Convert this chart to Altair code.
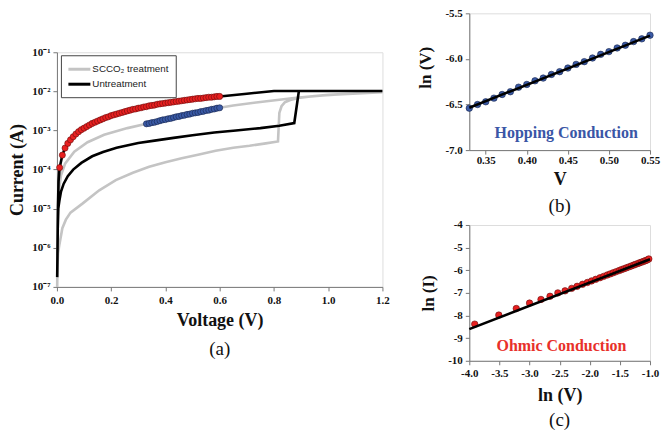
import altair as alt
import pandas as pd

# ---------------- Panel (a): I-V loops (V, log10 I), in sweep order ----------------
scco2_v = [0.001, 0.002, 0.004, 0.009, 0.02, 0.033, 0.05, 0.094, 0.156, 0.217, 0.28, 0.34,
           0.40, 0.46, 0.52, 0.585, 0.65, 0.71, 0.77, 0.815, 0.82, 0.828, 0.84, 0.86, 0.89,
           0.95, 1.05, 1.2,
           1.2, 1.0, 0.874, 0.75, 0.65, 0.60, 0.5, 0.4, 0.33, 0.26, 0.174, 0.113, 0.064,
           0.03, 0.015, 0.008, 0.004, 0.002, 0.001]
scco2_logi = [-7.0, -6.5, -6.15, -5.92, -5.5, -5.28, -5.1, -4.87, -4.53, -4.27, -4.08, -3.93,
              -3.81, -3.71, -3.62, -3.52, -3.44, -3.39, -3.33, -3.28, -2.55, -2.38, -2.28, -2.22, -2.17,
              -2.12, -2.07, -2.02,
              -2.02, -2.09, -2.17, -2.27, -2.36, -2.42, -2.56, -2.72, -2.83, -2.94, -3.11, -3.30, -3.54,
              -3.85, -4.15, -4.5, -5.0, -6.0, -7.0]

untr_v = [0.001, 0.002, 0.003, 0.005, 0.009, 0.015, 0.025, 0.04, 0.06, 0.09, 0.13, 0.17,
          0.22, 0.30, 0.36, 0.43, 0.50, 0.58, 0.66, 0.75, 0.82, 0.875, 0.892, 0.95, 1.05, 1.2,
          1.2, 0.8, 0.7, 0.6, 0.5, 0.4, 0.3, 0.2, 0.15, 0.1, 0.07, 0.05, 0.03, 0.02, 0.01,
          0.006, 0.004, 0.003, 0.002, 0.001]
untr_logi = [-6.75, -6.2, -5.5, -5.0, -4.8, -4.56, -4.36, -4.17, -4.0, -3.83, -3.66, -3.55,
             -3.44, -3.32, -3.26, -3.19, -3.12, -3.05, -3.0, -2.94, -2.88, -2.81, -1.99, -1.99, -1.99, -1.99,
             -1.99, -1.99, -2.06, -2.13, -2.20, -2.30, -2.43, -2.62, -2.76, -2.94, -3.09, -3.24, -3.45, -3.63, -3.95,
             -4.3, -4.9, -5.5, -6.2, -6.75]

red_v = [round(0.01 * k, 2) for k in range(1, 61)]
red_logi = [-3.95, -3.63, -3.45, -3.33, -3.24, -3.16, -3.09, -3.03, -2.98, -2.94,
            -2.90, -2.86, -2.82, -2.79, -2.76, -2.73, -2.70, -2.67, -2.65, -2.62,
            -2.60, -2.58, -2.56, -2.54, -2.52, -2.50, -2.48, -2.46, -2.45, -2.43,
            -2.42, -2.40, -2.39, -2.37, -2.36, -2.35, -2.33, -2.32, -2.31, -2.30,
            -2.29, -2.28, -2.27, -2.26, -2.25, -2.24, -2.23, -2.22, -2.21, -2.20,
            -2.19, -2.18, -2.18, -2.17, -2.16, -2.15, -2.15, -2.14, -2.13, -2.13]

blue_v = [round(0.01 * k, 2) for k in range(33, 61)]
blue_logi = [-2.83, -2.82, -2.80, -2.79, -2.77, -2.75, -2.73, -2.72, -2.70, -2.69,
             -2.67, -2.65, -2.64, -2.62, -2.61, -2.59, -2.58, -2.56, -2.55, -2.54,
             -2.52, -2.51, -2.49, -2.48, -2.46, -2.45, -2.43, -2.42]

series_names = ["SCCO\u2082 treatment", "Untreatment"]
series_colors = ["#c4c4c4", "#000000"]
a_x_ticks = [0.0, 0.2, 0.4, 0.6, 0.8, 1.0, 1.2]
a_y_ticks = [1e-7, 1e-6, 1e-5, 1e-4, 1e-3, 1e-2, 1e-1]

# ---------------- Panel (b): hopping conduction (V, ln I) ----------------
b_v = [0.33, 0.34, 0.35, 0.36, 0.37, 0.38, 0.39, 0.40, 0.41, 0.42, 0.43, 0.44,
       0.45, 0.46, 0.47, 0.48, 0.49, 0.50, 0.51, 0.52, 0.53, 0.54, 0.55]
b_lni = [-6.54, -6.50, -6.47, -6.43, -6.39, -6.36, -6.31, -6.28, -6.24, -6.21, -6.17, -6.14,
         -6.10, -6.06, -6.03, -5.99, -5.95, -5.92, -5.88, -5.85, -5.81, -5.78, -5.74]
b_fit_x = [0.33, 0.55]
b_fit_y = [-6.535, -5.745]
b_x_ticks = [0.35, 0.40, 0.45, 0.50, 0.55]
b_y_ticks = [-7.0, -6.5, -6.0, -5.5]
b_label = ["Hopping Conduction"]
b_label_x = [0.448]
b_label_y = [-6.81]

# ---------------- Panel (c): ohmic conduction (ln V, ln I) ----------------
c_lnv = [-3.91, -3.51, -3.22, -3.00, -2.81, -2.66, -2.53, -2.41, -2.30, -2.21, -2.12, -2.04,
         -1.97, -1.90, -1.83, -1.77, -1.71, -1.66, -1.61, -1.56, -1.51, -1.47, -1.43, -1.39,
         -1.35, -1.31, -1.27, -1.24, -1.20, -1.17, -1.14, -1.11, -1.08, -1.05, -1.02]
c_lni = [-8.38, -7.98, -7.69, -7.45, -7.29, -7.15, -7.00, -6.91, -6.80, -6.71, -6.62, -6.54,
         -6.47, -6.40, -6.33, -6.27, -6.21, -6.16, -6.11, -6.06, -6.01, -5.97, -5.93, -5.89,
         -5.85, -5.81, -5.77, -5.74, -5.70, -5.67, -5.64, -5.61, -5.58, -5.55, -5.50]
c_fit_x = [-4.0, -1.0]
c_fit_y = [-8.6, -5.51]
c_x_ticks = [-4.0, -3.5, -3.0, -2.5, -2.0, -1.5, -1.0]
c_y_ticks = [-10, -9, -8, -7, -6, -5, -4]
c_label = ["Ohmic Conduction"]
c_label_x = [-2.47]
c_label_y = [-9.34]

SERIF = "Liberation Serif"
SANS = "Liberation Sans"
MINUS_FIX = "replace(format(datum.value, '{fmt}'), '\u2212', '-')"


def loop_df(v, lg, name):
    return pd.DataFrame({"V": v, "I": [10 ** x for x in lg], "k": list(range(len(v))), "s": name})


def axis_common(**kw):
    base = dict(labelFont=SERIF, labelFontWeight="bold", labelFontSize=11, labelColor="#111",
                titleFont=SERIF, titleFontWeight="bold", titleFontSize=18, titleColor="#111",
                domainColor="#777", tickColor="#777", tickSize=4, grid=False, labelFlush=False)
    base.update(kw)
    return alt.Axis(**base)


# ---------- panel a ----------
color_scale = alt.Scale(domain=series_names, range=series_colors)
xa = alt.X("V:Q", scale=alt.Scale(domain=[0, 1.2], nice=False),
           axis=axis_common(values=a_x_ticks, format=".1f", title="Voltage (V)",
                            labelPadding=4, titlePadding=6))
ya = alt.Y("I:Q", scale=alt.Scale(type="log", domain=[1e-7, 1e-1], nice=False),
           axis=axis_common(values=a_y_ticks, title="Current (A)", labelPadding=3, titlePadding=5,
                            labelExpr="'10' + ['\u207b\u2077','\u207b\u2076','\u207b\u2075','\u207b\u2074','\u207b\u00b3','\u207b\u00b2','\u207b\u00b9'][round(log(datum.value)/LN10)+7]"))

legend = alt.Legend(title=None, orient="none", legendX=4, legendY=3, symbolType="M-2,0H2",
                    symbolStrokeWidth=3, symbolSize=121, symbolOffset=4.5, labelFont=SANS,
                    labelFontSize=9.8, labelColor="#222", strokeColor="#444", fillColor="white",
                    padding=7, rowPadding=2, labelOffset=6)

gray_line = alt.Chart(loop_df(scco2_v, scco2_logi, series_names[0])).mark_line(strokeWidth=2.6).encode(
    x=xa, y=ya, order="k:Q", color=alt.Color("s:N", scale=color_scale, legend=legend))
black_line = alt.Chart(loop_df(untr_v, untr_logi, series_names[1])).mark_line(strokeWidth=2.6).encode(
    x=xa, y=ya, order="k:Q", color=alt.Color("s:N", scale=color_scale, legend=legend))
red_pts = alt.Chart(pd.DataFrame({"V": red_v, "I": [10 ** x for x in red_logi]})).mark_point(
    filled=True, shape="circle", size=38, color="#e82020", stroke="#6a0d0d", strokeWidth=0.6, opacity=1
).encode(x=xa, y=ya)
blue_pts = alt.Chart(pd.DataFrame({"V": blue_v, "I": [10 ** x for x in blue_logi]})).mark_point(
    filled=True, shape="circle", size=38, color="#3a5aa6", stroke="#16244a", strokeWidth=0.6, opacity=1
).encode(x=xa, y=ya)

panel_a = alt.layer(gray_line, black_line, red_pts, blue_pts).properties(
    width=326, height=235,
    title=alt.TitleParams("(a)", orient="bottom", font=SERIF, fontSize=19, fontWeight="normal",
                          color="#111", offset=10))

spacer = alt.Chart(pd.DataFrame({"a": [0]})).mark_point(opacity=0).encode(
    x=alt.X("a:Q", axis=None), y=alt.Y("a:Q", axis=None)
).properties(width=10, height=32, view=alt.ViewBackground(stroke=None))

col_a = alt.vconcat(spacer, panel_a, spacing=0).resolve_scale(color="independent")

# ---------- panel b ----------
xb = alt.X("x:Q", scale=alt.Scale(domain=[0.33, 0.55], nice=False, zero=False),
           axis=axis_common(values=b_x_ticks, title="V", labelExpr=MINUS_FIX.format(fmt=".2f"),
                            labelPadding=0, titlePadding=5))
yb = alt.Y("y:Q", scale=alt.Scale(domain=[-7.0, -5.5], nice=False, zero=False),
           axis=axis_common(values=b_y_ticks, title="ln (V)", labelExpr=MINUS_FIX.format(fmt=".1f"),
                            labelPadding=3, titlePadding=10, titleFontSize=17, titleY=54))
b_pts = alt.Chart(pd.DataFrame({"x": b_v, "y": b_lni})).mark_point(
    filled=True, shape="circle", size=42, color="#3a5aa6", stroke="#16244a", strokeWidth=0.6, opacity=1
).encode(x=xb, y=yb)
b_fit = alt.Chart(pd.DataFrame({"x": b_fit_x, "y": b_fit_y})).mark_line(color="#000", strokeWidth=2.6).encode(x=xb, y=yb)
b_txt = alt.Chart(pd.DataFrame({"x": b_label_x, "y": b_label_y, "t": b_label})).mark_text(
    font=SERIF, fontWeight="bold", fontSize=16, color="#3a56a6", align="center", baseline="middle"
).encode(x=xb, y=yb, text="t:N")
panel_b = alt.layer(b_pts, b_fit, b_txt).properties(
    width=181, height=137,
    title=alt.TitleParams("(b)", orient="bottom", font=SERIF, fontSize=19, fontWeight="normal",
                          color="#111", offset=9))

# ---------- panel c ----------
xc = alt.X("x:Q", scale=alt.Scale(domain=[-4.0, -1.0], nice=False, zero=False),
           axis=axis_common(values=c_x_ticks, title="ln (V)", labelExpr=MINUS_FIX.format(fmt=".1f"),
                            labelPadding=3, titlePadding=8))
yc = alt.Y("y:Q", scale=alt.Scale(domain=[-10, -4], nice=False, zero=False),
           axis=axis_common(values=c_y_ticks, title="ln (I)", labelExpr=MINUS_FIX.format(fmt="d"),
                            labelPadding=3, titlePadding=10, titleFontSize=17))
c_pts = alt.Chart(pd.DataFrame({"x": c_lnv, "y": c_lni})).mark_point(
    filled=True, shape="circle", size=42, color="#e82020", stroke="#6a0d0d", strokeWidth=0.6, opacity=1
).encode(x=xc, y=yc)
c_fit = alt.Chart(pd.DataFrame({"x": c_fit_x, "y": c_fit_y})).mark_line(color="#000", strokeWidth=2.6).encode(x=xc, y=yc)
c_txt = alt.Chart(pd.DataFrame({"x": c_label_x, "y": c_label_y, "t": c_label})).mark_text(
    font=SERIF, fontWeight="bold", fontSize=16, color="#e8302a", align="center", baseline="middle"
).encode(x=xc, y=yc, text="t:N")
panel_c = alt.layer(c_pts, c_fit, c_txt).properties(
    width=181, height=136,
    title=alt.TitleParams("(c)", orient="bottom", font=SERIF, fontSize=19, fontWeight="normal",
                          color="#111", offset=6))

col_bc = alt.vconcat(panel_b, panel_c, spacing=1).resolve_scale(color="independent")

chart = alt.hconcat(col_a, col_bc, spacing=26).resolve_scale(color="independent").properties(
    padding={"left": 0, "top": -2, "right": 0, "bottom": 4}
).configure_view(stroke="#999", strokeWidth=1).configure(background="white")

chart.save("out.html", embed_options={"renderer": "svg", "actions": False})
